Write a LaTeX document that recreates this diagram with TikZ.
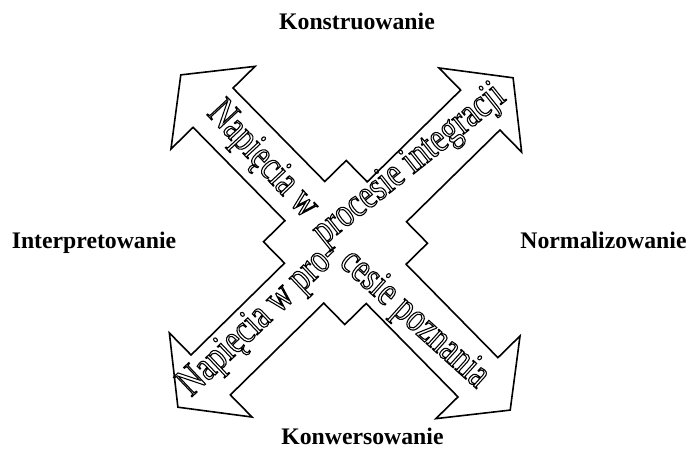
\documentclass[tikz,border=0pt]{standalone}
\usepackage{fontspec}
\setmainfont{Liberation Serif}
\newfontfamily\napisfont[FakeStretch=0.77]{Liberation Serif}
\usepackage{tikz}
\newcommand{\hollow}[1]{\special{pdf:literal direct 1 Tr 0.8 w}#1\special{pdf:literal direct 0 Tr}}
\tikzset{
	kier/.style   ={font=\fontsize{17.8}{20}\selectfont\bfseries, inner sep=0pt, anchor=base},
	napis/.style  ={font=\napisfont\fontsize{31}{34}\selectfont, inner sep=0pt},
	strzala/.style={draw=black, line width=1.2pt, line join=miter, fill=white},
}

\begin{document}
\begin{tikzpicture}[x=0.75pt,y=0.75pt]
	\useasboundingbox (-345.5,-227.5) rectangle (341.5,242.5);
	% krzyz dwoch podwojnych strzalek
	\begin{scope}[rotate=44.5]
		\draw[strzala] (235,0) -- (189,59) -- (189,28) -- (58,28) -- (58,58) -- (28,58) -- (28,189) -- (59,189)
			-- (0,235) -- (-59,189) -- (-28,189) -- (-28,58) -- (-58,58) -- (-58,28) -- (-189,28) -- (-189,59)
			-- (-235,0) -- (-189,-59) -- (-189,-28) -- (-58,-28) -- (-58,-58) -- (-28,-58) -- (-28,-189) -- (-59,-189)
			-- (0,-235) -- (59,-189) -- (28,-189) -- (28,-58) -- (58,-58) -- (58,-28) -- (189,-28) -- (189,-59) -- cycle;
		\node[napis, rotate=-47] (integrA) at (-2,117) {\hollow{Napięcia w}};
		\node[napis, rotate=38.5] (integrB) at (100,10) {\hollow{procesie integracji}};
		\node[napis, rotate=43.5] (poznA) at (-116,5) {\hollow{Napięcia w pro-}};
		\node[napis, rotate=-42] (poznB) at (-5.5,-103) {\hollow{cesie poznania}};
	\end{scope}
	% etykiety
	\node[kier] (konstr) at (11.5,212.5) {Konstruowanie};
	\node[kier] (interp) at (-251.5,-6.5) {Interpretowanie};
	\node[kier] (normal) at (258,-6.5) {Normalizowanie};
	\node[kier] (konwer) at (17,-202.5) {Konwersowanie};
\end{tikzpicture}
\end{document}
